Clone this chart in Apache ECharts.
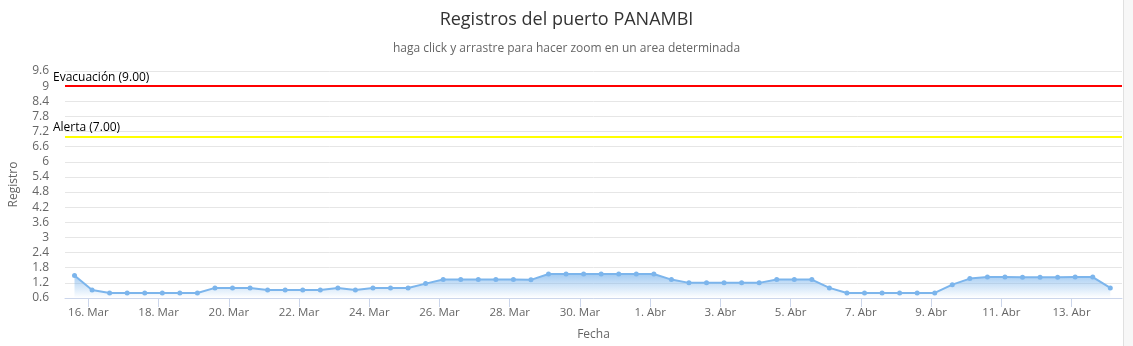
<!DOCTYPE html>
<html>
<head>
<meta charset="utf-8">
<script src="https://cdn.jsdelivr.net/npm/echarts@6/dist/echarts.min.js"></script>
<style>
html,body{margin:0;padding:0;background:#fff;}
#c{width:1133px;height:346px;}
</style>
</head>
<body>
<div id="c"></div>
<script>
var YEAR = 2017;
var times = ['03-15 14:30','03-16 02:30','03-16 14:30','03-17 02:30','03-17 14:30','03-18 02:30','03-18 14:30','03-19 02:30','03-19 14:30','03-20 02:30',
'03-20 14:30','03-21 02:30','03-21 14:30','03-22 02:30','03-22 14:30','03-23 02:30','03-23 14:30','03-24 02:30','03-24 14:30','03-25 02:30',
'03-25 14:30','03-26 02:30','03-26 14:30','03-27 02:30','03-27 14:30','03-28 02:30','03-28 14:30','03-29 02:30','03-29 14:30','03-30 02:30',
'03-30 14:30','03-31 02:30','03-31 14:30','04-01 02:30','04-01 14:30','04-02 02:30','04-02 14:30','04-03 02:30','04-03 14:30','04-04 02:30',
'04-04 14:30','04-05 02:30','04-05 14:30','04-06 02:30','04-06 14:30','04-07 02:30','04-07 14:30','04-08 02:30','04-08 14:30','04-09 02:30',
'04-09 14:30','04-10 02:30','04-10 14:30','04-11 02:30','04-11 14:30','04-12 02:30','04-12 14:30','04-13 02:30','04-13 14:30','04-14 02:30'];
var registro = [1.49,0.92,0.8,0.8,0.8,0.8,0.8,0.8,1.0,1.0,
1.0,0.92,0.92,0.92,0.92,1.0,0.92,1.0,1.0,1.0,
1.17,1.33,1.33,1.33,1.33,1.33,1.32,1.55,1.55,1.55,
1.55,1.55,1.55,1.55,1.33,1.2,1.2,1.2,1.2,1.2,
1.33,1.33,1.33,1.0,0.8,0.8,0.8,0.8,0.8,0.8,
1.13,1.37,1.43,1.43,1.42,1.42,1.42,1.43,1.43,1.0];
var tickDates = ['03-16 00:00','03-18 00:00','03-20 00:00','03-22 00:00','03-24 00:00','03-26 00:00','03-28 00:00','03-30 00:00',
'04-01 00:00','04-03 00:00','04-05 00:00','04-07 00:00','04-09 00:00','04-11 00:00','04-13 00:00'];
var tickLabels = ['16. Mar','18. Mar','20. Mar','22. Mar','24. Mar','26. Mar','28. Mar','30. Mar',
'1. Abr','3. Abr','5. Abr','7. Abr','9. Abr','11. Abr','13. Abr'];
var axisStart = '03-15 08:00';
var axisEnd = '04-14 10:30';
var evacuacion = 9.0;
var alerta = 7.0;

function ts(s){
  var p = s.split(/[- :]/);
  return Date.UTC(YEAR, +p[0]-1, +p[1], +p[2], +p[3]);
}
var tickVals = tickDates.map(ts);
var labelMap = {};
tickVals.forEach(function(v,i){labelMap[v]=tickLabels[i];});
var data = times.map(function(t,i){return [ts(t), registro[i]];});

var FONT = 'Open Sans';
var chart = echarts.init(document.getElementById('c'), null, {renderer:'canvas'});
chart.setOption({
  animation:false,
  backgroundColor:'#ffffff',
  textStyle:{fontFamily:FONT},
  title:{
    text:'Registros del puerto PANAMBI',
    subtext:'haga click y arrastre para hacer zoom en un area determinada',
    left:'center', top:6, itemGap:14,
    textStyle:{fontFamily:FONT,fontSize:18,fontWeight:'normal',color:'#333333'},
    subtextStyle:{fontFamily:FONT,fontSize:12,color:'#666666'}
  },
  grid:{left:62,right:11,top:71,bottom:47,containLabel:false},
  xAxis:{
    type:'value',
    min:ts(axisStart), max:ts(axisEnd),
    name:'Fecha', nameLocation:'middle', nameGap:31,
    nameTextStyle:{fontFamily:FONT,fontSize:12,color:'#666666'},
    axisLine:{show:true,lineStyle:{color:'#ccd6eb',width:1}},
    axisTick:{show:true,length:9,lineStyle:{color:'#ccd6eb'},customValues:tickVals},
    axisLabel:{fontFamily:FONT,fontSize:11.5,color:'#666666',margin:9,customValues:tickVals,
      formatter:function(v){return labelMap[v]||'';}},
    splitLine:{show:false}
  },
  yAxis:{
    type:'value',
    min:0.6, max:9.6, interval:0.6,
    name:'Registro', nameLocation:'middle', nameGap:45,
    nameTextStyle:{fontFamily:FONT,fontSize:12,color:'#666666'},
    axisLine:{show:false}, axisTick:{show:false},
    axisLabel:{fontFamily:FONT,fontSize:12,color:'#666666',margin:16},
    splitLine:{show:true,lineStyle:{color:'#e6e6e6',width:1}}
  },
  graphic:[{type:'rect',shape:{x:1123,y:0,width:10,height:346},style:{fill:'#f7f7f7'},silent:true},
           {type:'line',shape:{x1:1123.5,y1:0,x2:1123.5,y2:346},style:{stroke:'#e0e0e0',lineWidth:1},silent:true}],
  series:[{
    type:'line',
    name:'Registro',
    data:data,
    symbol:'circle', symbolSize:5, showSymbol:true,
    itemStyle:{color:'#7cb5ec'},
    lineStyle:{color:'#7cb5ec',width:2},
    areaStyle:{color:new echarts.graphic.LinearGradient(0,0,0,1,[
      {offset:0,color:'rgba(124,181,236,1)'},
      {offset:1,color:'rgba(124,181,236,0)'}])},
    markLine:{
      silent:true, symbol:'none', animation:false,
      data:[
        {yAxis:evacuacion, name:'Evacuación', lineStyle:{color:'#ff0000',width:2,type:'solid'},
         label:{formatter:'Evacuación (9.00)'}},
        {yAxis:alerta, name:'Alerta', lineStyle:{color:'#ffff00',width:2,type:'solid'},
         label:{formatter:'Alerta (7.00)'}}
      ],
      label:{show:true,position:'insideStartTop',distance:[-12,3],color:'#000000',fontFamily:FONT,fontSize:12}
    }
  }]
});
</script>
</body>
</html>
